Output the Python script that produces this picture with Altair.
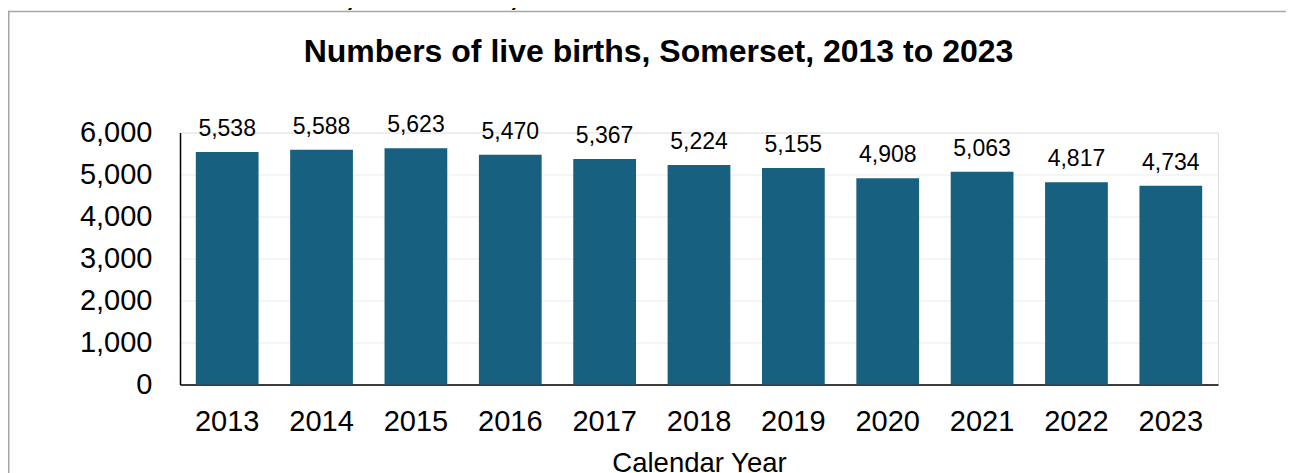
import altair as alt
import pandas as pd

years = ["2013", "2014", "2015", "2016", "2017", "2018", "2019", "2020", "2021", "2022", "2023"]
births = [5538, 5588, 5623, 5470, 5367, 5224, 5155, 4908, 5063, 4817, 4734]
y_ticks = [0, 1000, 2000, 3000, 4000, 5000, 6000]
chart_title = "Numbers of live births, Somerset, 2013 to 2023"
x_title = "Calendar Year"

FONT = "Liberation Sans"
BAR_COLOR = "#17607f"
W, H = 1038, 252
PAD_L, PAD_T = 172, 124.5
TOTAL_W, TOTAL_H = 1278, 480

df = pd.DataFrame({"year": years, "births": births})
one = pd.DataFrame({"t": [chart_title]})

x_enc = alt.X(
    "year:N", sort=years, title=x_title,
    scale=alt.Scale(paddingInner=0.335, paddingOuter=0.1675),
    axis=alt.Axis(
        labelAngle=0, labelFontSize=29, labelColor="black", labelFont=FONT,
        labelPadding=23, ticks=False, tickSize=0,
        domainColor="black", domainWidth=1.5, grid=False,
        titleFontSize=27.5, titleFontWeight="normal", titleColor="black",
        titleFont=FONT, titlePadding=13,
    ),
)
y_enc = alt.Y(
    "births:Q", title=None,
    scale=alt.Scale(domain=[0, 6000], nice=False),
    axis=alt.Axis(
        values=y_ticks, format=",.0f", labelFontSize=29, labelColor="black",
        labelFont=FONT, labelPadding=28, ticks=False, tickSize=0,
        domainColor="black", domainWidth=1.5,
        grid=True, gridColor="#ebebeb", gridWidth=1.2,
    ),
)

# outer frame: top and left edges only (right/bottom lie beyond the window)
frame_top = alt.Chart(one).mark_rule(color="#a6a6a6", strokeWidth=1.5).encode(
    x=alt.value(-PAD_L), x2=alt.value(TOTAL_W), y=alt.value(-PAD_T + 3.5),
)
frame_left = alt.Chart(one).mark_rule(color="#a6a6a6", strokeWidth=1.5).encode(
    x=alt.value(-PAD_L + 0.75), y=alt.value(-PAD_T + 2.75), y2=alt.value(TOTAL_H),
)

bars = alt.Chart(df).mark_bar(color=BAR_COLOR).encode(x=x_enc, y=y_enc)

labels = alt.Chart(df).mark_text(
    fontSize=23, font=FONT, color="black", baseline="alphabetic", dy=-16
).encode(
    x=alt.X("year:N", sort=years),
    y=alt.Y("births:Q"),
    text=alt.Text("births:Q", format=",.0f"),
)

main_title = alt.Chart(one).mark_text(
    fontSize=32, font=FONT, fontWeight="bold", color="black",
    align="center", baseline="alphabetic",
).encode(x=alt.value(478.5), y=alt.value(54 - PAD_T), text="t:N")

top_title = alt.Chart(one).mark_text(
    fontSize=32, font=FONT, fontWeight="bold", color="black",
    align="left", baseline="alphabetic",
).encode(x=alt.value(-PAD_L), y=alt.value(-3 - PAD_T), text="t:N")

chart = alt.layer(frame_top, frame_left, bars, labels, main_title, top_title).properties(
    width=W, height=H,
    autosize=alt.AutoSizeParams(type="none"),
    padding={"left": PAD_L, "top": PAD_T,
             "right": TOTAL_W - PAD_L - W, "bottom": TOTAL_H - PAD_T - H},
).configure_view(stroke=None).configure(background="white")

chart.save("out.html", embed_options={"renderer": "svg", "actions": False})
